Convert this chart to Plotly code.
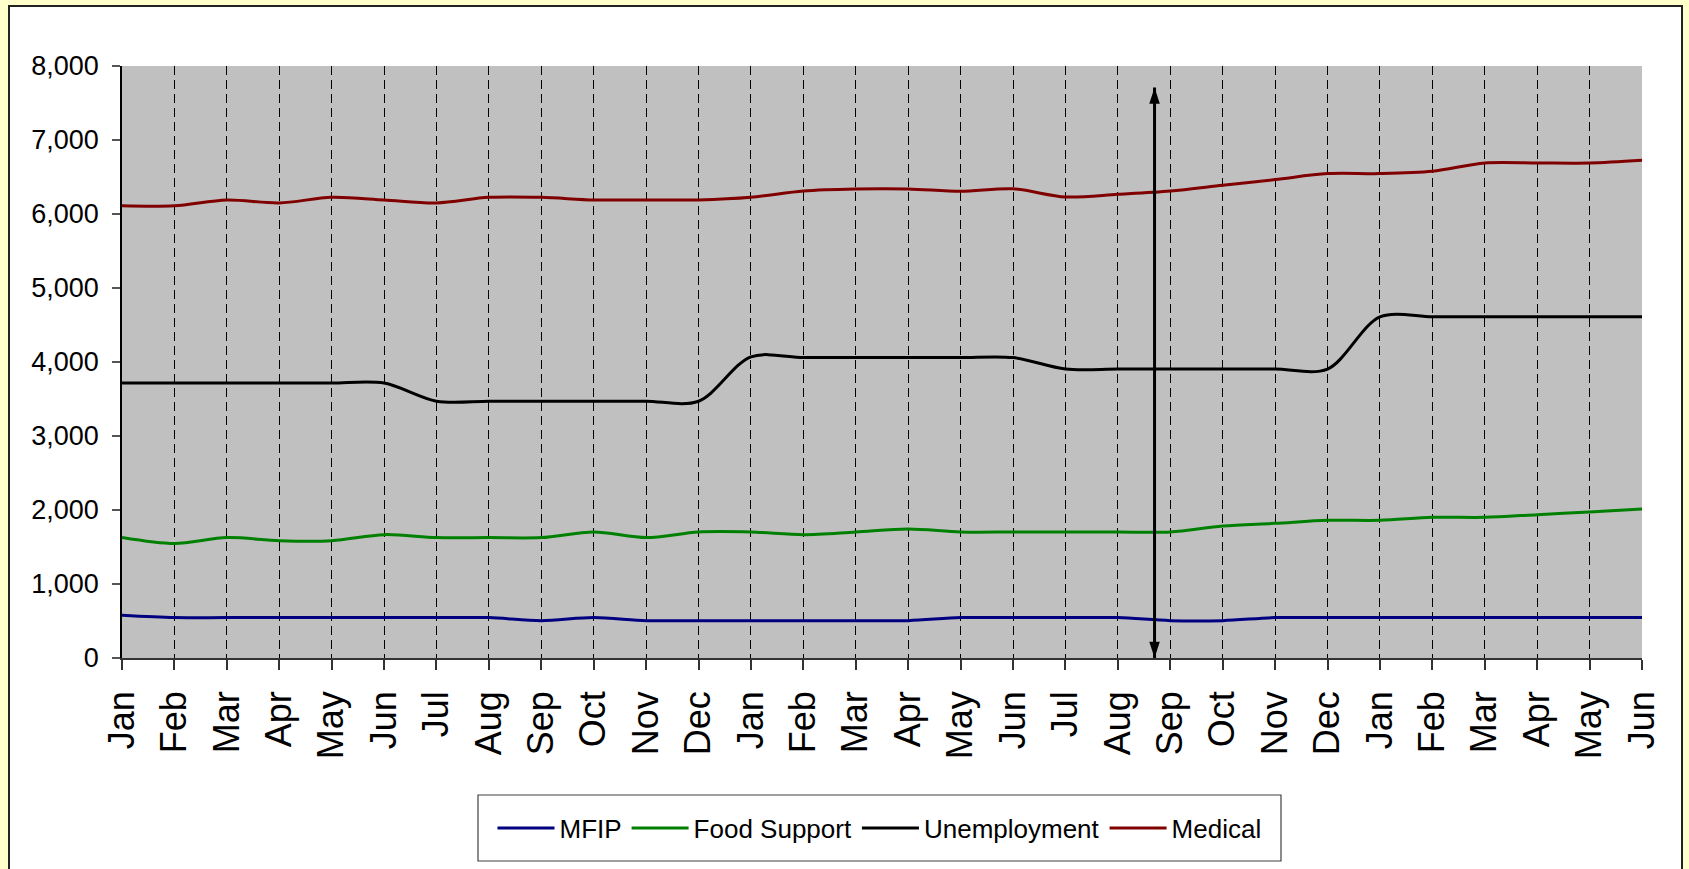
import plotly.graph_objects as go

# ---------------- data ----------------
months = ["Jan", "Feb", "Mar", "Apr", "May", "Jun", "Jul", "Aug", "Sep", "Oct", "Nov", "Dec",
          "Jan", "Feb", "Mar", "Apr", "May", "Jun", "Jul", "Aug", "Sep", "Oct", "Nov", "Dec",
          "Jan", "Feb", "Mar", "Apr", "May", "Jun"]

mfip = [577, 546, 546, 546, 546, 546, 546, 546, 505, 546, 505, 505,
        505, 505, 505, 505, 546, 546, 546, 546, 505, 505, 546, 546,
        546, 546, 546, 546, 546, 546]

food_support = [1627, 1546, 1627, 1586, 1586, 1667, 1627, 1627, 1627, 1703, 1627, 1703,
                1703, 1667, 1703, 1743, 1703, 1703, 1703, 1703, 1703, 1784, 1820, 1861,
                1861, 1901, 1901, 1937, 1973, 2014]

unemployment = [3715, 3715, 3715, 3715, 3715, 3715, 3470, 3470, 3470, 3470, 3470, 3470,
                4070, 4060, 4060, 4060, 4060, 4060, 3905, 3905, 3905, 3905, 3905, 3905,
                4610, 4610, 4610, 4610, 4610, 4610]

medical = [6110, 6110, 6190, 6150, 6225, 6190, 6150, 6225, 6225, 6190, 6190, 6190,
           6226, 6311, 6338, 6338, 6306, 6340, 6230, 6266, 6310, 6388, 6465, 6546,
           6546, 6577, 6689, 6689, 6689, 6726]

series_names = ["MFIP", "Food Support", "Unemployment", "Medical"]
series_values = [mfip, food_support, unemployment, medical]
series_colors = ["#000080", "#008000", "#000000", "#800000"]

# double-headed marker arrow (between Aug and Sep of the second year)
arrow_x = 19.7
arrow_y = [0, 7710]

# ---------------- figure ----------------
FONT = "Liberation Sans, Arial, sans-serif"

x_idx = list(range(len(months)))

fig = go.Figure()
for name, vals, col in zip(series_names, series_values, series_colors):
    fig.add_trace(go.Scatter(
        x=x_idx, y=vals, name=name, mode="lines",
        line=dict(color=col, width=3, shape="spline", smoothing=0.9),
        hoverinfo="skip",
    ))

fig.add_trace(go.Scatter(
    x=[arrow_x, arrow_x], y=arrow_y, mode="lines+markers",
    line=dict(color="black", width=3),
    marker=dict(symbol="arrow", size=17, angle=[180, 0], color="black",
                line=dict(width=0)),
    showlegend=False, hoverinfo="skip", cliponaxis=False,
))

L, R, T, B = 122, 47, 66, 211
W, H = 1689, 869
pw, ph = W - L - R, H - T - B


def px_x(p):
    return (p - L) / pw


def px_y(p):
    return (H - B - p) / ph


fig.update_layout(
    width=W, height=H,
    margin=dict(l=L, r=R, t=T, b=B, pad=0),
    paper_bgcolor="#FFFFCC",
    plot_bgcolor="#C0C0C0",
    font=dict(family=FONT, color="black"),
    showlegend=True,
    legend=dict(
        orientation="h", x=px_x(879.5), xanchor="center",
        y=px_y(828), yanchor="middle",
        bgcolor="rgba(0,0,0,0)", borderwidth=0,
        font=dict(family=FONT, size=26, color="black"),
        itemwidth=57,
    ),
    shapes=[
        dict(type="rect", xref="paper", yref="paper",
             x0=px_x(9), x1=px_x(1682), y0=px_y(6), y1=px_y(900),
             fillcolor="white", line=dict(color="#222222", width=2), layer="below"),
        dict(type="rect", xref="paper", yref="paper",
             x0=px_x(478), x1=px_x(1281), y0=px_y(795), y1=px_y(861),
             fillcolor="white", line=dict(color="#404040", width=1.2), layer="below"),
        dict(type="rect", xref="x domain", yref="y domain",
             x0=0, x1=1, y0=0, y1=1,
             fillcolor="#C0C0C0", line=dict(width=0), layer="below"),
    ],
    xaxis=dict(
        range=[0, len(months) - 1], tickmode="array", tickvals=x_idx, ticktext=months,
        tickangle=-90, tickfont=dict(family=FONT, size=36, color="black"),
        ticks="outside", ticklen=10, tickcolor="#333333", tickwidth=1.5,
        showgrid=True, gridcolor="black", gridwidth=1, griddash="9px,5px",
        showline=True, linecolor="#333333", linewidth=1.5,
        zeroline=False, automargin=False, ticklabelstandoff=7, fixedrange=True,
    ),
    yaxis=dict(
        range=[0, 8000], tickmode="linear", tick0=0, dtick=1000, tickformat=",",
        tickfont=dict(family=FONT, size=27, color="black"),
        ticks="outside", ticklen=8, tickcolor="#555555", tickwidth=1.5,
        showgrid=False, showline=True, linecolor="black", linewidth=1.5,
        zeroline=False, automargin=False, ticklabelstandoff=8, fixedrange=True,
    ),
)

fig.write_html(
    "out.html",
    config={"displayModeBar": False},
    post_script="document.body.style.margin='0';document.body.style.overflow='hidden';",
)
